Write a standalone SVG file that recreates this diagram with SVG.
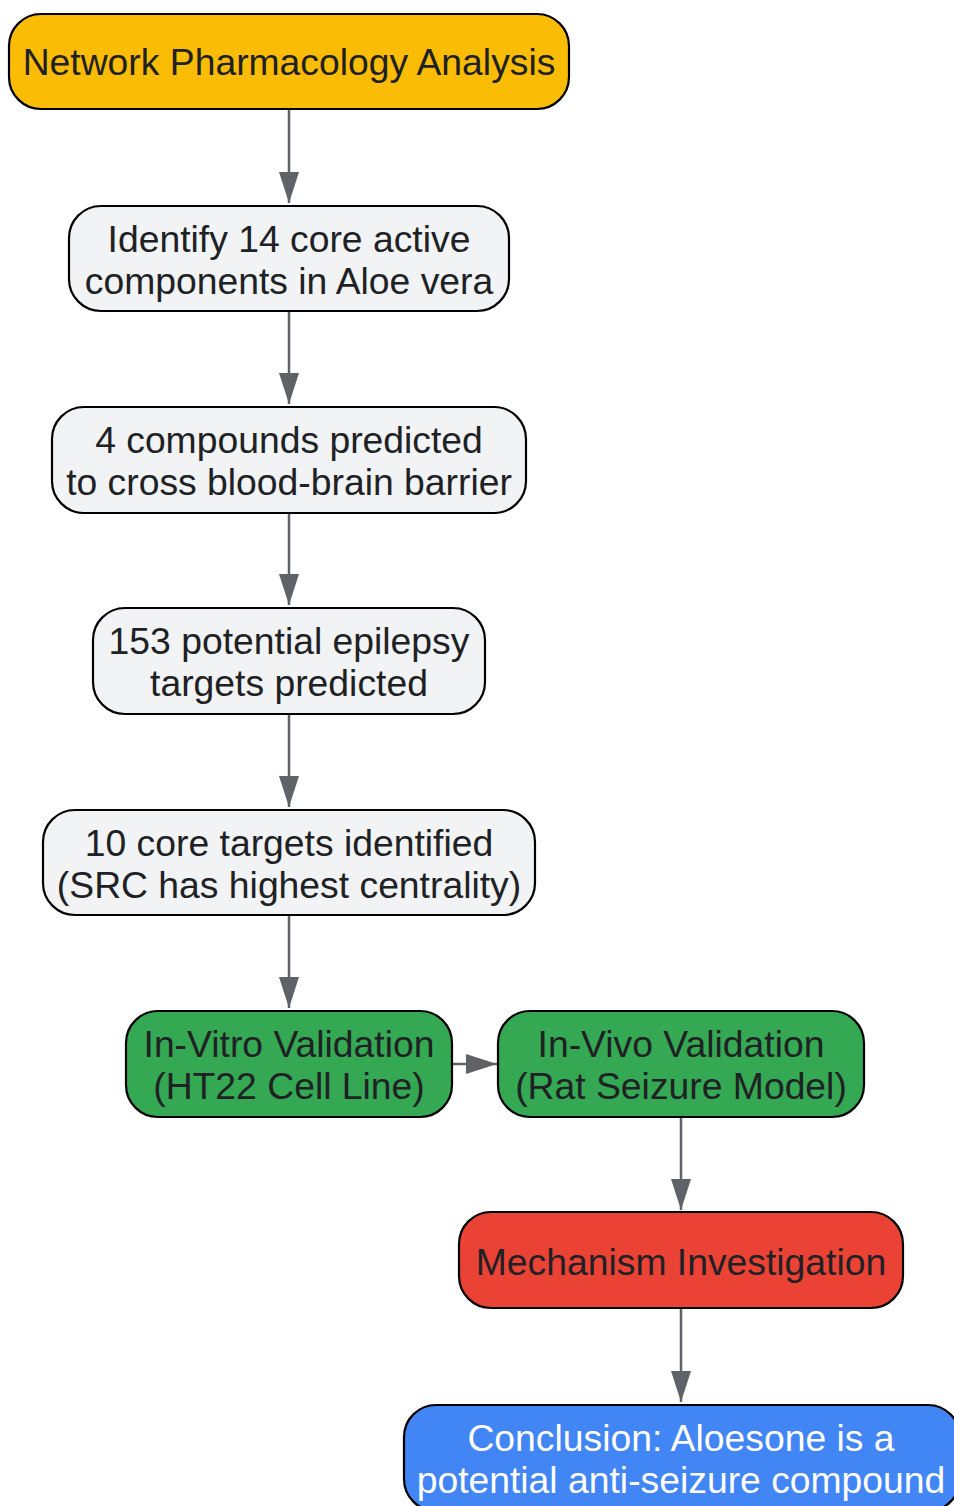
<svg xmlns="http://www.w3.org/2000/svg" width="954" height="1506" viewBox="0 0 954 1506">
<style>
.n{stroke:#000;stroke-width:2.2}
.t{font-family:"Liberation Sans",Arial,sans-serif;font-size:37.3px;fill:#202124;text-anchor:middle}
.w{fill:#fff}
.c{stroke:#5f6368;stroke-width:2.5;fill:none}
</style>
<defs>
<marker id="a" viewBox="0 0 31 20" refX="31" refY="10" markerWidth="31" markerHeight="20" markerUnits="userSpaceOnUse" orient="auto">
<path d="M0,0 L31,10 L0,20 Z" fill="#5f6368"/>
</marker>
</defs>
<rect width="954" height="1506" fill="#fff"/>
<g id="connectors">
<path class="c" d="M289,110 V203" marker-end="url(#a)"/>
<path class="c" d="M289,312 V404" marker-end="url(#a)"/>
<path class="c" d="M289,514 V605" marker-end="url(#a)"/>
<path class="c" d="M289,715 V807" marker-end="url(#a)"/>
<path class="c" d="M289,916 V1008" marker-end="url(#a)"/>
<path class="c" d="M453,1064 H497" marker-end="url(#a)"/>
<path class="c" d="M681,1118 V1210" marker-end="url(#a)"/>
<path class="c" d="M681,1309 V1402" marker-end="url(#a)"/>
</g>
<g id="n1"><rect class="n" x="9" y="14" width="560" height="95" rx="32" fill="#fbbc05"/><text class="t" x="289" y="75">Network Pharmacology Analysis</text></g>
<g id="n2"><rect class="n" x="69" y="206" width="440" height="105" rx="32" fill="#f1f3f4"/><text class="t" x="289" y="252">Identify 14 core active</text><text class="t" x="289" y="294">components in Aloe vera</text></g>
<g id="n3"><rect class="n" x="52" y="407" width="474" height="106" rx="32" fill="#f1f3f4"/><text class="t" x="289" y="453">4 compounds predicted</text><text class="t" x="289" y="495">to cross blood-brain barrier</text></g>
<g id="n4"><rect class="n" x="93" y="608" width="392" height="106" rx="32" fill="#f1f3f4"/><text class="t" x="289" y="654">153 potential epilepsy</text><text class="t" x="289" y="696">targets predicted</text></g>
<g id="n5"><rect class="n" x="43" y="810" width="492" height="105" rx="32" fill="#f1f3f4"/><text class="t" x="289" y="856">10 core targets identified</text><text class="t" x="289" y="898">(SRC has highest centrality)</text></g>
<g id="n6"><rect class="n" x="126" y="1011" width="326" height="106" rx="32" fill="#34a853"/><text class="t" x="289" y="1057">In-Vitro Validation</text><text class="t" x="289" y="1099">(HT22 Cell Line)</text></g>
<g id="n7"><rect class="n" x="498" y="1011" width="366" height="106" rx="32" fill="#34a853"/><text class="t" x="681" y="1057">In-Vivo Validation</text><text class="t" x="681" y="1099">(Rat Seizure Model)</text></g>
<g id="n8"><rect class="n" x="459" y="1212" width="444" height="96" rx="32" fill="#ea4335"/><text class="t" x="681" y="1275">Mechanism Investigation</text></g>
<g id="n9"><rect class="n" x="404" y="1405" width="556" height="106" rx="32" fill="#4285f4"/><text class="t w" x="681" y="1451">Conclusion: Aloesone is a</text><text class="t w" x="681" y="1493">potential anti-seizure compound</text></g>
</svg>
